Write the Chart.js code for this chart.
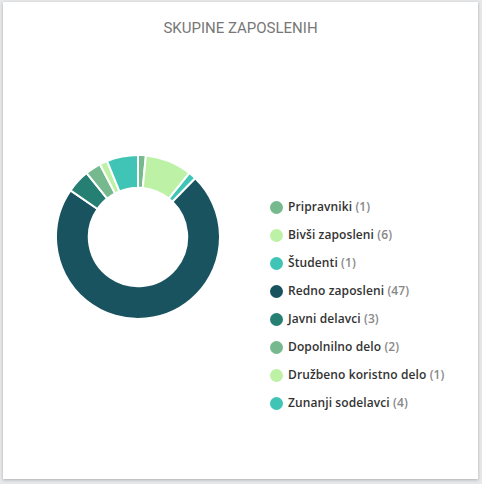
<!DOCTYPE html>
<html>
<head>
<meta charset="utf-8">
<script src="https://cdn.jsdelivr.net/npm/chart.js@4"></script>
<style>
  html, body { margin:0; padding:0; }
  body { width:482px; height:484px; background:#e6e8ea; position:relative; overflow:hidden; }
  #card { position:absolute; left:3px; top:2px; width:475px; height:477px; background:#fff;
          box-shadow:0 1px 3px rgba(0,0,0,0.25); }
  #title { position:absolute; left:0; top:17px; width:100%; text-align:center;
           font-family:Roboto, sans-serif; font-size:15px; color:#777; letter-spacing:0; }
  #wrap { position:absolute; left:55px; top:154px; width:166px; height:166px; }
  #legend { position:absolute; left:268px; top:197px; margin:0; padding:0; list-style:none;
            font-family:"Open Sans", sans-serif; font-size:12px; font-weight:600; letter-spacing:0.1px; }
  #legend li { height:28px; line-height:20px; white-space:nowrap; position:relative; padding-left:20px; color:#333; }
  #legend li span.dot { position:absolute; left:2px; top:4px; width:13px; height:13px; border-radius:50%; }
  #legend li span.cnt { color:#888; }
</style>
</head>
<body>
<div id="card">
  <div id="title">SKUPINE ZAPOSLENIH</div>
</div>
<div id="wrap"><canvas id="c"></canvas></div>
<ul id="legend"></ul>
<script>
const categories = ["Pripravniki", "Bivši zaposleni", "Študenti", "Redno zaposleni", "Javni delavci", "Dopolnilno delo", "Družbeno koristno delo", "Zunanji sodelavci"];
const values = [1, 6, 1, 47, 3, 2, 1, 4];
const colors = ["#76b98e", "#bdf2a6", "#3fc4b5", "#18535f", "#267f73", "#76b98e", "#bdf2a6", "#3fc4b5"];

new Chart(document.getElementById('c'), {
  type: 'doughnut',
  data: {
    labels: categories,
    datasets: [{ data: values, backgroundColor: colors, borderColor: '#fff', borderWidth: 2 }]
  },
  options: {
    responsive: true,
    maintainAspectRatio: false,
    animation: false,
    cutout: '60%',
    plugins: { legend: { display: false }, tooltip: { enabled: false } }
  }
});

const ul = document.getElementById('legend');
categories.forEach((name, i) => {
  const li = document.createElement('li');
  const dot = document.createElement('span');
  dot.className = 'dot';
  dot.style.background = colors[i];
  li.appendChild(dot);
  li.appendChild(document.createTextNode(name + ' '));
  const cnt = document.createElement('span');
  cnt.className = 'cnt';
  cnt.textContent = '(' + values[i] + ')';
  li.appendChild(cnt);
  ul.appendChild(li);
});
</script>
</body>
</html>
